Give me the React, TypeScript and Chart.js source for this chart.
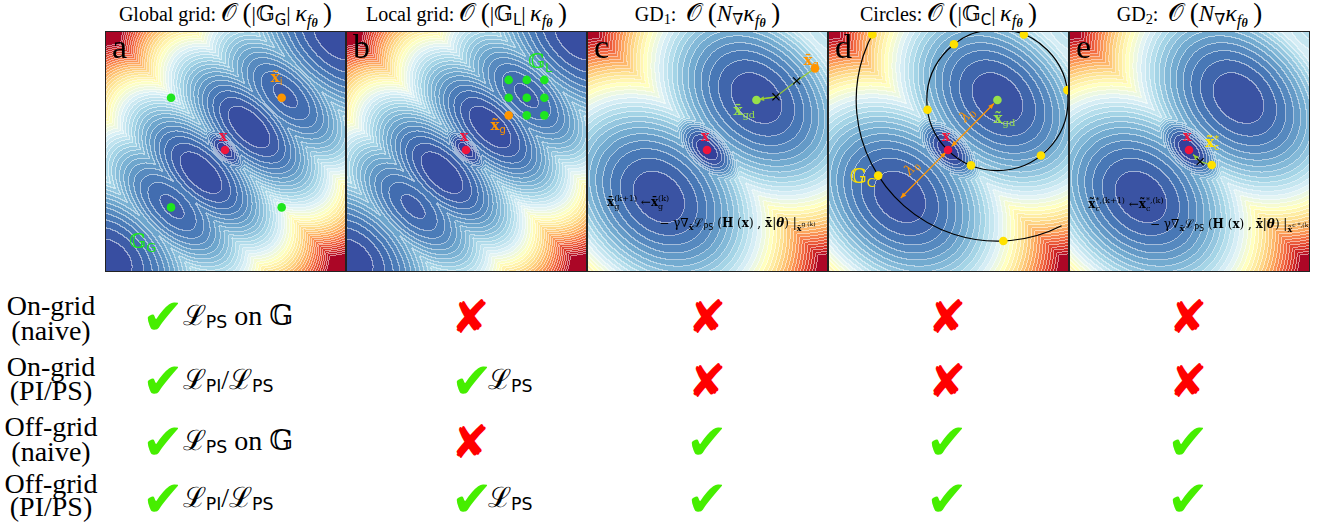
import React, { useEffect, useRef } from "react";
import { Chart, registerables } from "chart.js";

Chart.register(...registerables);

const SERIF = '"Liberation Serif", "DejaVu Serif", serif';
const MSERIF = '"DejaVu Serif", "Liberation Serif", serif';
const SANS = '"DejaVu Sans", "Liberation Sans", sans-serif';

// ---------- layout ----------
const PANEL_LEFTS = [105, 346, 587, 828, 1069];
const PANEL_TOP = 31;
const PANEL_SIZE = 241;
const PANEL_LETTERS = ["a", "b", "c", "d", "e"];

// ---------- colours ----------
const RED = "#f0143c";
const GREEN = "#1ee61e";
const ORANGE = "#ff9500";
const LIGHT_GREEN = "#98e04a";
const PATH_GREEN = "#9acd32";
const YELLOW = "#ffe100";
const CHECK_GREEN = "#46ee00";
const CROSS_RED = "#ff0000";

// RdYlBu reversed colormap stops
const CMAP_STOPS = ["#313695", "#4575b4", "#74add1", "#abd9e9", "#e0f3f8", "#ffffbf", "#fee090", "#fdae61", "#f46d43", "#d73027", "#a50026"];

// ---------- loss landscape wells (panels a, b) ----------
const AB_WELL_U = [0.498, 0.4, 0.6, 0.28, 0.75, 0.03, 0.96];
const AB_WELL_V = [0.506, 0.41, 0.6, 0.27, 0.73, 0.05, 0.97];
const AB_WELL_BASE = [0, 0.3, 0.3, 0.8, 0.8, 0.4, 0.4];
const AB_WELL_SMAJ = [0.07, 0.2, 0.2, 0.2, 0.2, 0.22, 0.25];
const AB_WELL_SMIN = [0.035, 0.1, 0.1, 0.1, 0.1, 0.15, 0.15];
const AB_FIELD_MAX = 12;
const AB_LEVELS = 40;

// ---------- loss landscape wells (panels c, d, e) ----------
const CDE_WELL_U = [0.499, 0.705, 0.3, 1.12];
const CDE_WELL_V = [0.506, 0.72, 0.31, 1.12];
const CDE_WELL_BASE = [0, 0.2, 0.2, 1.4];
const CDE_WELL_SMAJ = [0.13, 0.33, 0.33, 0.3];
const CDE_WELL_SMIN = [0.075, 0.24, 0.25, 0.3];
const CDE_FIELD_MAX = 5.5;
const CDE_LEVELS = 33;

// ---------- markers ----------
const X_TRUE_U = [0.498];
const X_TRUE_V = [0.506];
const GLOBAL_GRID_U = [0.274, 0.274, 0.733];
const GLOBAL_GRID_V = [0.723, 0.268, 0.268];
const XI_U = [0.733];
const XI_V = [0.723];
const LOCAL_GRID_U = [0.675, 0.75, 0.823, 0.675, 0.75, 0.823, 0.75, 0.823];
const LOCAL_GRID_V = [0.797, 0.797, 0.797, 0.723, 0.723, 0.723, 0.65, 0.65];
const XG_LOCAL_U = [0.675];
const XG_LOCAL_V = [0.65];
const GD1_PATH_U = [0.946, 0.87, 0.784, 0.712];
const GD1_PATH_V = [0.845, 0.793, 0.727, 0.716];
const GD1_STEP_U = [0.87, 0.784];
const GD1_STEP_V = [0.793, 0.727];
const XG_START_U = [0.946];
const XG_START_V = [0.845];
const XGD_U = [0.703];
const XGD_V = [0.714];
const CIRCLE_RADII = [0.293, 0.586];
const SMALL_CIRCLE_ANGLES = [128, 68, 8, -52, -112, -172];
const BIG_CIRCLE_ANGLES = [-87.6, -147.6, 152.4];
const BIG_ARC_FROM_TO = [-63, -250];
const LAMBDA_U = [0.703, 0.498, 0.293];
const LAMBDA_V = [0.714, 0.506, 0.298];
const XC_STAR_U = [0.592];
const XC_STAR_V = [0.444];
const GD2_PATH_U = [0.592, 0.544, 0.516];
const GD2_PATH_V = [0.444, 0.458, 0.487];
const GD2_STEP_U = [0.544];
const GD2_STEP_V = [0.458];
// the circle point on the d|e border, seen from panel e
const BORDER_DOT_U = [-0.0135];
const BORDER_DOT_V = [0.752];

// ---------- table ----------
const ROW_LABELS = [["On-grid", "(naive)"], ["On-grid", "(PI/PS)"], ["Off-grid", "(naive)"], ["Off-grid", "(PI/PS)"]];
const ROW_LABEL_BASE1 = [315, 376.7, 436.7, 493.3];
const ROW_LABEL_BASE2 = [340, 400, 461.7, 516.7];
const ROW_MARK_CENTERS = [317, 381, 442, 499];
const MARK_COLUMN_X = [142, 451, 707, 947, 1188];
const MARK_COLUMN_ALIGN = ["left", "left", "center", "center", "center"];
const TABLE_MARKS = [
  [1, 0, 0, 0, 0],
  [1, 1, 0, 0, 0],
  [1, 0, 1, 1, 1],
  [1, 1, 1, 1, 1],
];
const NOTE_COL_X = [182.7, 488];

type Part = { t: string; s?: number; dy?: number; fam?: string; b?: boolean; it?: boolean };

const PS_ON_G: Part[] = [{ t: "ℒ" }, { t: "PS", s: 0.62, dy: 0.22, fam: SANS }, { t: " on " }, { t: "𝔾" }];
const PI_PS: Part[] = [{ t: "ℒ" }, { t: "PI", s: 0.62, dy: 0.22, fam: SANS }, { t: "/ℒ" }, { t: "PS", s: 0.62, dy: 0.22, fam: SANS }];
const PS_ONLY: Part[] = [{ t: "ℒ" }, { t: "PS", s: 0.62, dy: 0.22, fam: SANS }];
const NOTES_COL1 = [PS_ON_G, PI_PS, PS_ON_G, PI_PS];
const NOTES_COL2 = [null, PS_ONLY, null, PS_ONLY];

const KAPPA: Part[] = [{ t: "κ", s: 1.2, it: true }, { t: "f", s: 0.85, dy: 0.3, it: true }, { t: "θ", s: 0.6, dy: 0.55, b: true, it: true }];
const OPEN: Part[] = [{ t: "𝒪", s: 1.25 }, { t: "\u2009(", s: 1.35, dy: 0.05 }];
const CLOSE: Part[] = [{ t: "\u2009)", s: 1.35, dy: 0.05 }];
function gridSet(letter: string): Part[] {
  return [{ t: "|𝔾", s: 1.1 }, { t: letter, s: 0.75, dy: 0.25, fam: SANS }, { t: "|\u2009", s: 1.1 }];
}
const NABLA: Part[] = [{ t: "N", s: 1.15, it: true }, { t: "∇", s: 0.8, dy: 0.25 }];
const TITLES: Part[][] = [
  [{ t: "Global grid: " }, ...OPEN, ...gridSet("G"), ...KAPPA, ...CLOSE],
  [{ t: "Local grid: " }, ...OPEN, ...gridSet("L"), ...KAPPA, ...CLOSE],
  [{ t: "GD" }, { t: "1", s: 0.72, dy: 0.25 }, { t: ":  " }, ...OPEN, ...NABLA, ...KAPPA, ...CLOSE],
  [{ t: "Circles: " }, ...OPEN, ...gridSet("C"), ...KAPPA, ...CLOSE],
  [{ t: "GD" }, { t: "2", s: 0.72, dy: 0.25 }, { t: ":  " }, ...OPEN, ...NABLA, ...KAPPA, ...CLOSE],
];

// ---------- helpers ----------
type Field = { u: number[]; v: number[]; base: number[]; sMaj: number[]; sMin: number[]; max: number; levels: number };
const FIELD_AB: Field = { u: AB_WELL_U, v: AB_WELL_V, base: AB_WELL_BASE, sMaj: AB_WELL_SMAJ, sMin: AB_WELL_SMIN, max: AB_FIELD_MAX, levels: AB_LEVELS };
const FIELD_CDE: Field = { u: CDE_WELL_U, v: CDE_WELL_V, base: CDE_WELL_BASE, sMaj: CDE_WELL_SMAJ, sMin: CDE_WELL_SMIN, max: CDE_FIELD_MAX, levels: CDE_LEVELS };

const S2 = Math.SQRT1_2;
function fieldAt(f: Field, x: number, y: number) {
  let best = Infinity;
  for (let i = 0; i < f.u.length; i++) {
    const du = x - f.u[i];
    const dv = y - f.v[i];
    const p1 = (du - dv) * S2;
    const p2 = (du + dv) * S2;
    const q = f.base[i] + (p1 / f.sMaj[i]) ** 2 + (p2 / f.sMin[i]) ** 2;
    if (q < best) best = q;
  }
  return best / f.max;
}

const CMAP_RGB = CMAP_STOPS.map((h) => [1, 3, 5].map((i) => parseInt(h.slice(i, i + 2), 16)));
function cmap(t: number) {
  const n = CMAP_RGB.length;
  const c = Math.max(0, Math.min(1, t)) * (n - 1);
  const i = Math.min(n - 2, Math.floor(c));
  const fr = c - i;
  const a = CMAP_RGB[i];
  const b = CMAP_RGB[i + 1];
  return [a[0] + (b[0] - a[0]) * fr, a[1] + (b[1] - a[1]) * fr, a[2] + (b[2] - a[2]) * fr];
}

type Seg = { t: string; s: number; dy?: number; fam?: string; b?: boolean; it?: boolean; nx?: boolean };
type Label = { u: number; v: number; segs: Seg[]; color: string; align?: "left" | "center"; rot?: number };
type Arrow = { u1: number; v1: number; u2: number; v2: number; color: string; width: number; head1?: boolean; head2?: boolean; shrink?: number };
type Circle = { cu: number; cv: number; r: number; from?: number; to?: number };

function segFont(s: Seg) {
  return `${s.it ? "italic " : ""}${s.b ? "bold " : ""}${s.s}px ${s.fam || MSERIF}`;
}

function drawRich(ctx: CanvasRenderingContext2D, x: number, y: number, segs: Seg[], align: string) {
  const widths = segs.map((sg) => {
    ctx.font = segFont(sg);
    return ctx.measureText(sg.t).width;
  });
  let total = 0;
  segs.forEach((sg, i) => {
    if (!sg.nx) total += widths[i];
  });
  let cx = align === "center" ? x - total / 2 : x;
  segs.forEach((sg, i) => {
    ctx.font = segFont(sg);
    ctx.fillText(sg.t, cx, y + (sg.dy || 0));
    if (!sg.nx) cx += widths[i];
  });
}

function arrowHead(ctx: CanvasRenderingContext2D, x1: number, y1: number, x2: number, y2: number, size: number) {
  const a = Math.atan2(y2 - y1, x2 - x1);
  ctx.beginPath();
  ctx.moveTo(x2, y2);
  ctx.lineTo(x2 - size * Math.cos(a - 0.42), y2 - size * Math.sin(a - 0.42));
  ctx.lineTo(x2 - size * Math.cos(a + 0.42), y2 - size * Math.sin(a + 0.42));
  ctx.closePath();
  ctx.fill();
}

type PanelSpec = {
  field: Field;
  letter: string;
  circles: Circle[];
  arrows: Arrow[];
  labels: Label[];
  datasets: any[];
};

function makePanelPlugin(spec: PanelSpec) {
  return {
    id: "panelDecor",
    beforeDatasetsDraw(chart: any) {
      const { ctx, chartArea: ca, scales } = chart;
      const xs = scales.x;
      const ys = scales.y;
      const w = Math.round(ca.right - ca.left);
      const h = Math.round(ca.bottom - ca.top);
      const levels = spec.field.levels;
      const off = document.createElement("canvas");
      off.width = w;
      off.height = h;
      const octx = off.getContext("2d")!;
      const img = octx.createImageData(w, h);
      const lv = new Int16Array(w * h);
      for (let py = 0; py < h; py++) {
        const yv = ys.getValueForPixel(ca.top + py + 0.5);
        for (let px = 0; px < w; px++) {
          const xv = xs.getValueForPixel(ca.left + px + 0.5);
          const t = fieldAt(spec.field, xv, yv);
          const L = Math.min(levels - 1, Math.max(0, Math.floor(t * levels)));
          lv[py * w + px] = L;
          const c = cmap((L + 0.5) / levels);
          const k = (py * w + px) * 4;
          img.data[k] = c[0];
          img.data[k + 1] = c[1];
          img.data[k + 2] = c[2];
          img.data[k + 3] = 255;
        }
      }
      for (let py = 0; py < h; py++) {
        for (let px = 0; px < w; px++) {
          const i = py * w + px;
          const L = lv[i];
          const edge = (px + 1 < w && lv[i + 1] !== L) || (py + 1 < h && lv[i + w] !== L);
          if (edge) {
            const k = i * 4;
            const a = 0.5;
            img.data[k] = img.data[k] * (1 - a) + 255 * a;
            img.data[k + 1] = img.data[k + 1] * (1 - a) + 255 * a;
            img.data[k + 2] = img.data[k + 2] * (1 - a) + 255 * a;
          }
        }
      }
      octx.putImageData(img, 0, 0);
      ctx.save();
      ctx.drawImage(off, ca.left, ca.top);
      ctx.beginPath();
      ctx.rect(ca.left, ca.top, ca.right - ca.left, ca.bottom - ca.top);
      ctx.clip();
      // circles
      ctx.strokeStyle = "#000";
      ctx.lineWidth = 1.2;
      spec.circles.forEach((c) => {
        const cx = xs.getPixelForValue(c.cu);
        const cy = ys.getPixelForValue(c.cv);
        const r = xs.getPixelForValue(c.cu + c.r) - cx;
        ctx.beginPath();
        if (c.from !== undefined && c.to !== undefined) {
          ctx.arc(cx, cy, r, (-c.from * Math.PI) / 180, (-c.to * Math.PI) / 180, false);
        } else {
          ctx.arc(cx, cy, r, 0, Math.PI * 2);
        }
        ctx.stroke();
      });
      // arrows
      spec.arrows.forEach((a) => {
        let x1 = xs.getPixelForValue(a.u1);
        let y1 = ys.getPixelForValue(a.v1);
        let x2 = xs.getPixelForValue(a.u2);
        let y2 = ys.getPixelForValue(a.v2);
        const len = Math.hypot(x2 - x1, y2 - y1);
        const sh = a.shrink || 0;
        const ux = (x2 - x1) / len;
        const uy = (y2 - y1) / len;
        x1 += ux * sh;
        y1 += uy * sh;
        x2 -= ux * sh;
        y2 -= uy * sh;
        ctx.strokeStyle = a.color;
        ctx.fillStyle = a.color;
        ctx.lineWidth = a.width;
        ctx.beginPath();
        ctx.moveTo(x1, y1);
        ctx.lineTo(x2, y2);
        ctx.stroke();
        if (a.head2) arrowHead(ctx, x1, y1, x2, y2, 6);
        if (a.head1) arrowHead(ctx, x2, y2, x1, y1, 6);
      });
      ctx.restore();
    },
    afterDatasetsDraw(chart: any) {
      const { ctx, chartArea: ca, scales } = chart;
      ctx.save();
      ctx.textBaseline = "alphabetic";
      ctx.textAlign = "left";
      spec.labels.forEach((lb) => {
        const x = scales.x.getPixelForValue(lb.u);
        const y = scales.y.getPixelForValue(lb.v);
        ctx.fillStyle = lb.color;
        if (lb.rot) {
          ctx.save();
          ctx.translate(x, y);
          ctx.rotate((lb.rot * Math.PI) / 180);
          drawRich(ctx, 0, 0, lb.segs, lb.align || "left");
          ctx.restore();
        } else {
          drawRich(ctx, x, y, lb.segs, lb.align || "left");
        }
      });
      // panel letter
      ctx.fillStyle = "#000";
      ctx.font = `34px ${SERIF}`;
      ctx.fillText(spec.letter, ca.left + 7, ca.top + 27);
      // frame
      ctx.strokeStyle = "#222";
      ctx.lineWidth = 1;
      ctx.strokeRect(ca.left + 0.5, ca.top + 0.5, ca.right - ca.left - 1, ca.bottom - ca.top - 1);
      ctx.restore();
    },
  };
}

function pts(us: number[], vs: number[]) {
  return us.map((u, i) => ({ x: u, y: vs[i] }));
}
function dots(us: number[], vs: number[], color: string, r = 4.3, clip: any = undefined) {
  const ds: any = { data: pts(us, vs), backgroundColor: color, borderColor: color, pointRadius: r, borderWidth: 0, order: 0 };
  if (clip !== undefined) ds.clip = clip;
  return ds;
}
function steps(us: number[], vs: number[]) {
  return { data: pts(us, vs), pointStyle: "crossRot", pointRadius: 5, borderColor: "#000", backgroundColor: "#000", borderWidth: 1.2, order: 1 };
}
function path(us: number[], vs: number[], color: string, w: number) {
  return { type: "line", data: pts(us, vs), borderColor: color, borderWidth: w, pointRadius: 0, showLine: true, fill: false, order: 3 };
}
function onCircle(cu: number, cv: number, r: number, angles: number[]) {
  return {
    u: angles.map((a) => cu + r * Math.cos((a * Math.PI) / 180)),
    v: angles.map((a) => cv + r * Math.sin((a * Math.PI) / 180)),
  };
}

const X_LABEL: Label = { u: 0.49, v: 0.545, segs: [{ t: "x", s: 14, b: true }], color: RED, align: "center" };

const SMALL_PTS = onCircle(XGD_U[0], XGD_V[0], CIRCLE_RADII[0], SMALL_CIRCLE_ANGLES);
const BIG_PTS = onCircle(XGD_U[0], XGD_V[0], CIRCLE_RADII[1], BIG_CIRCLE_ANGLES);

const GD1_LINE1: Seg[] = [
  { t: "x̄", s: 12, b: true }, { t: "g", s: 8, dy: 3, nx: true }, { t: "(k+1)", s: 8, dy: -5 },
  { t: " ←", s: 12 }, { t: "x̄", s: 12, b: true }, { t: "g", s: 8, dy: 3, nx: true }, { t: "(k)", s: 8, dy: -5 },
];
function gdLine2(subMain: string, subSup: string): Seg[] {
  return [
    { t: "− γ∇", s: 12 }, { t: "x̄", s: 8, dy: 3, b: true }, { t: "ℒ", s: 12 }, { t: "PS", s: 8, dy: 3, fam: SANS },
    { t: " (", s: 12 }, { t: "H", s: 12, b: true }, { t: " (", s: 12 }, { t: "x", s: 12, b: true }, { t: ") , ", s: 12 },
    { t: "x̄", s: 12, b: true }, { t: "|", s: 12 }, { t: "θ", s: 12, b: true, it: true }, { t: ") |", s: 12 },
    { t: subMain, s: 8, dy: 4, b: true }, { t: subSup, s: 6, dy: -1 },
  ];
}
const GD2_LINE1: Seg[] = [
  { t: "x̃", s: 12, b: true }, { t: "c", s: 8, dy: 3, nx: true }, { t: "*,(k+1)", s: 8, dy: -5 },
  { t: " ←", s: 12 }, { t: "x̃", s: 12, b: true }, { t: "c", s: 8, dy: 3, nx: true }, { t: "*,(k)", s: 8, dy: -5 },
];

const LAMBDA_SEGS: Seg[] = [{ t: "λ", s: 14, it: true }, { t: "0", s: 9, dy: 3 }];

const PANELS: PanelSpec[] = [
  {
    field: FIELD_AB,
    letter: PANEL_LETTERS[0],
    circles: [],
    arrows: [],
    labels: [
      X_LABEL,
      { u: 0.712, v: 0.79, align: "center", color: ORANGE, segs: [{ t: "x̃", s: 15, b: true }, { t: "i", s: 10, dy: 3, fam: SANS }] },
      { u: 0.1, v: 0.1, color: GREEN, segs: [{ t: "𝔾", s: 20 }, { t: "G", s: 13, dy: 4, fam: SANS }] },
    ],
    datasets: [dots(X_TRUE_U, X_TRUE_V, RED), dots(GLOBAL_GRID_U, GLOBAL_GRID_V, GREEN), dots(XI_U, XI_V, ORANGE)],
  },
  {
    field: FIELD_AB,
    letter: PANEL_LETTERS[1],
    circles: [],
    arrows: [],
    labels: [
      X_LABEL,
      { u: 0.755, v: 0.846, color: GREEN, segs: [{ t: "𝔾", s: 20 }, { t: "L", s: 13, dy: 4, fam: SANS }] },
      { u: 0.6, v: 0.59, color: ORANGE, segs: [{ t: "x̃", s: 15, b: true }, { t: "g", s: 10, dy: 3, fam: SANS }] },
    ],
    datasets: [dots(X_TRUE_U, X_TRUE_V, RED), dots(LOCAL_GRID_U, LOCAL_GRID_V, GREEN), dots(XG_LOCAL_U, XG_LOCAL_V, ORANGE)],
  },
  {
    field: FIELD_CDE,
    letter: PANEL_LETTERS[2],
    circles: [],
    arrows: [{ u1: GD1_PATH_U[2], v1: GD1_PATH_V[2], u2: GD1_PATH_U[3], v2: GD1_PATH_V[3], color: PATH_GREEN, width: 1.2, head2: true }],
    labels: [
      X_LABEL,
      { u: 0.93, v: 0.86, align: "center", color: ORANGE, segs: [{ t: "x̄", s: 15, b: true }, { t: "g", s: 10, dy: 3, fam: SANS }] },
      { u: 0.608, v: 0.65, color: LIGHT_GREEN, segs: [{ t: "x̄", s: 15, b: true }, { t: "gd", s: 10, dy: 3 }] },
      { u: 0.083, v: 0.274, color: "#000", segs: GD1_LINE1 },
      { u: 0.3, v: 0.188, color: "#000", segs: gdLine2("x̄", "g (k)") },
    ],
    datasets: [
      dots(X_TRUE_U, X_TRUE_V, RED),
      dots(XG_START_U, XG_START_V, ORANGE),
      dots(XGD_U, XGD_V, LIGHT_GREEN),
      steps(GD1_STEP_U, GD1_STEP_V),
      path(GD1_PATH_U, GD1_PATH_V, PATH_GREEN, 1.2),
    ],
  },
  {
    field: FIELD_CDE,
    letter: PANEL_LETTERS[3],
    circles: [
      { cu: XGD_U[0], cv: XGD_V[0], r: CIRCLE_RADII[0] },
      { cu: XGD_U[0], cv: XGD_V[0], r: CIRCLE_RADII[1], from: BIG_ARC_FROM_TO[0], to: BIG_ARC_FROM_TO[1] },
    ],
    arrows: [
      { u1: LAMBDA_U[0], v1: LAMBDA_V[0], u2: LAMBDA_U[1], v2: LAMBDA_V[1], color: ORANGE, width: 1.2, head1: true, head2: true, shrink: 5 },
      { u1: LAMBDA_U[1], v1: LAMBDA_V[1], u2: LAMBDA_U[2], v2: LAMBDA_V[2], color: ORANGE, width: 1.2, head1: true, head2: true, shrink: 3 },
    ],
    labels: [
      X_LABEL,
      { u: 0.09, v: 0.37, color: YELLOW, segs: [{ t: "𝔾", s: 20 }, { t: "C", s: 13, dy: 4, fam: SANS }] },
      { u: 0.687, v: 0.62, color: LIGHT_GREEN, segs: [{ t: "x̃", s: 15, b: true }, { t: "gd", s: 10, dy: 3 }] },
      { u: 0.59, v: 0.64, align: "center", rot: -45, color: ORANGE, segs: LAMBDA_SEGS },
      { u: 0.36, v: 0.42, align: "center", rot: -45, color: ORANGE, segs: LAMBDA_SEGS },
    ],
    datasets: [
      dots(X_TRUE_U, X_TRUE_V, RED),
      dots(XGD_U, XGD_V, LIGHT_GREEN),
      dots(SMALL_PTS.u, SMALL_PTS.v, YELLOW, 4.3, false),
      dots(BIG_PTS.u, BIG_PTS.v, YELLOW),
    ],
  },
  {
    field: FIELD_CDE,
    letter: PANEL_LETTERS[4],
    circles: [],
    arrows: [{ u1: GD2_PATH_U[1], v1: GD2_PATH_V[1], u2: GD2_PATH_U[2], v2: GD2_PATH_V[2], color: PATH_GREEN, width: 1.2, head2: true }],
    labels: [
      X_LABEL,
      { u: 0.565, v: 0.52, color: YELLOW, segs: [{ t: "x̃", s: 15, b: true }, { t: "c", s: 9, dy: 3, nx: true, fam: SANS }, { t: "*", s: 10, dy: -5 }] },
      { u: 0.08, v: 0.265, color: "#000", segs: GD2_LINE1 },
      { u: 0.336, v: 0.183, color: "#000", segs: gdLine2("x̃", "c *,(k)") },
    ],
    datasets: [
      dots(X_TRUE_U, X_TRUE_V, RED),
      dots(XC_STAR_U, XC_STAR_V, YELLOW),
      dots(BORDER_DOT_U, BORDER_DOT_V, YELLOW, 4.3, false),
      steps(GD2_STEP_U, GD2_STEP_V),
      path(GD2_PATH_U, GD2_PATH_V, PATH_GREEN, 1.2),
    ],
  },
];

function Panel({ index }: { index: number }) {
  const ref = useRef<HTMLCanvasElement>(null);
  useEffect(() => {
    const spec = PANELS[index];
    const chart = new Chart(ref.current as HTMLCanvasElement, {
      type: "scatter",
      data: { datasets: spec.datasets as any },
      options: {
        responsive: false,
        maintainAspectRatio: false,
        animation: false,
        events: [],
        layout: { padding: 0, autoPadding: false },
        plugins: { legend: { display: false }, tooltip: { enabled: false }, title: { display: false } },
        scales: {
          x: { type: "linear", min: 0, max: 1, display: false },
          y: { type: "linear", min: 0, max: 1, display: false },
        },
      } as any,
      plugins: [makePanelPlugin(spec) as any],
    });
    return () => chart.destroy();
  }, [index]);
  return (
    <canvas
      ref={ref}
      width={PANEL_SIZE}
      height={PANEL_SIZE}
      style={{ position: "absolute", left: PANEL_LEFTS[index], top: PANEL_TOP, width: PANEL_SIZE, height: PANEL_SIZE }}
    />
  );
}

function Rich({ parts }: { parts: Part[] }) {
  return (
    <>
      {parts.map((p, i) => (
        <span
          key={i}
          style={{
            fontSize: p.s ? `${p.s}em` : undefined,
            position: p.dy ? "relative" : undefined,
            top: p.dy ? `${p.dy}em` : undefined,
            fontFamily: p.fam,
            fontWeight: p.b ? "bold" : undefined,
            fontStyle: p.it ? "italic" : undefined,
            whiteSpace: "pre",
          }}
        >
          {p.t}
        </span>
      ))}
    </>
  );
}

// baseline -> top for Liberation Serif with line-height = font-size
function topFor(baseline: number, size: number) {
  return baseline - 0.8375 * size;
}

const TITLE_SIZE = 20;
const ROW_SIZE = 28;
const NOTE_SIZE = 28;
const CHECK_SIZE = 50;
const CROSS_SIZE = 46;

export default function App() {
  return (
    <div style={{ position: "absolute", left: 0, top: 0, width: 1319, height: 529, background: "#fff", overflow: "hidden", fontFamily: SERIF, color: "#000" }}>
      {TITLES.map((parts, i) => (
        <div
          key={"t" + i}
          style={{
            position: "absolute",
            left: PANEL_LEFTS[i] + PANEL_SIZE / 2 - 200,
            width: 400,
            textAlign: "center",
            top: topFor(18.5, TITLE_SIZE),
            fontSize: TITLE_SIZE,
            lineHeight: `${TITLE_SIZE}px`,
            whiteSpace: "nowrap",
          }}
        >
          <Rich parts={parts} />
        </div>
      ))}
      {PANELS.map((_, i) => (
        <Panel key={"p" + i} index={i} />
      ))}
      {ROW_LABELS.map((lines, r) => (
        <React.Fragment key={"r" + r}>
          {lines.map((ln, j) => (
            <div
              key={j}
              style={{
                position: "absolute",
                left: 0,
                width: 102,
                textAlign: "center",
                top: topFor(j === 0 ? ROW_LABEL_BASE1[r] : ROW_LABEL_BASE2[r], ROW_SIZE),
                fontSize: ROW_SIZE,
                lineHeight: `${ROW_SIZE}px`,
                whiteSpace: "nowrap",
              }}
            >
              {ln}
            </div>
          ))}
        </React.Fragment>
      ))}
      {TABLE_MARKS.map((row, r) =>
        row.map((m, c) => {
          const isLeft = MARK_COLUMN_ALIGN[c] === "left";
          const size = m ? CHECK_SIZE : CROSS_SIZE;
          return (
            <div
              key={`m${r}-${c}`}
              style={{
                position: "absolute",
                left: isLeft ? MARK_COLUMN_X[c] : MARK_COLUMN_X[c] - 50,
                width: isLeft ? undefined : 100,
                textAlign: isLeft ? "left" : "center",
                top: ROW_MARK_CENTERS[r] - size / 2,
                fontSize: size,
                lineHeight: `${size}px`,
                fontFamily: SANS,
                color: m ? CHECK_GREEN : CROSS_RED,
              }}
            >
              {m ? "✔" : "✘"}
            </div>
          );
        })
      )}
      {NOTES_COL1.map((parts, r) => (
        <div
          key={"n1" + r}
          style={{ position: "absolute", left: NOTE_COL_X[0], top: topFor(ROW_MARK_CENTERS[r] + 8, NOTE_SIZE), fontSize: NOTE_SIZE, lineHeight: `${NOTE_SIZE}px`, whiteSpace: "nowrap" }}
        >
          <Rich parts={parts} />
        </div>
      ))}
      {NOTES_COL2.map((parts, r) =>
        parts ? (
          <div
            key={"n2" + r}
            style={{ position: "absolute", left: NOTE_COL_X[1], top: topFor(ROW_MARK_CENTERS[r] + 8, NOTE_SIZE), fontSize: NOTE_SIZE, lineHeight: `${NOTE_SIZE}px`, whiteSpace: "nowrap" }}
          >
            <Rich parts={parts} />
          </div>
        ) : null
      )}
    </div>
  );
}
